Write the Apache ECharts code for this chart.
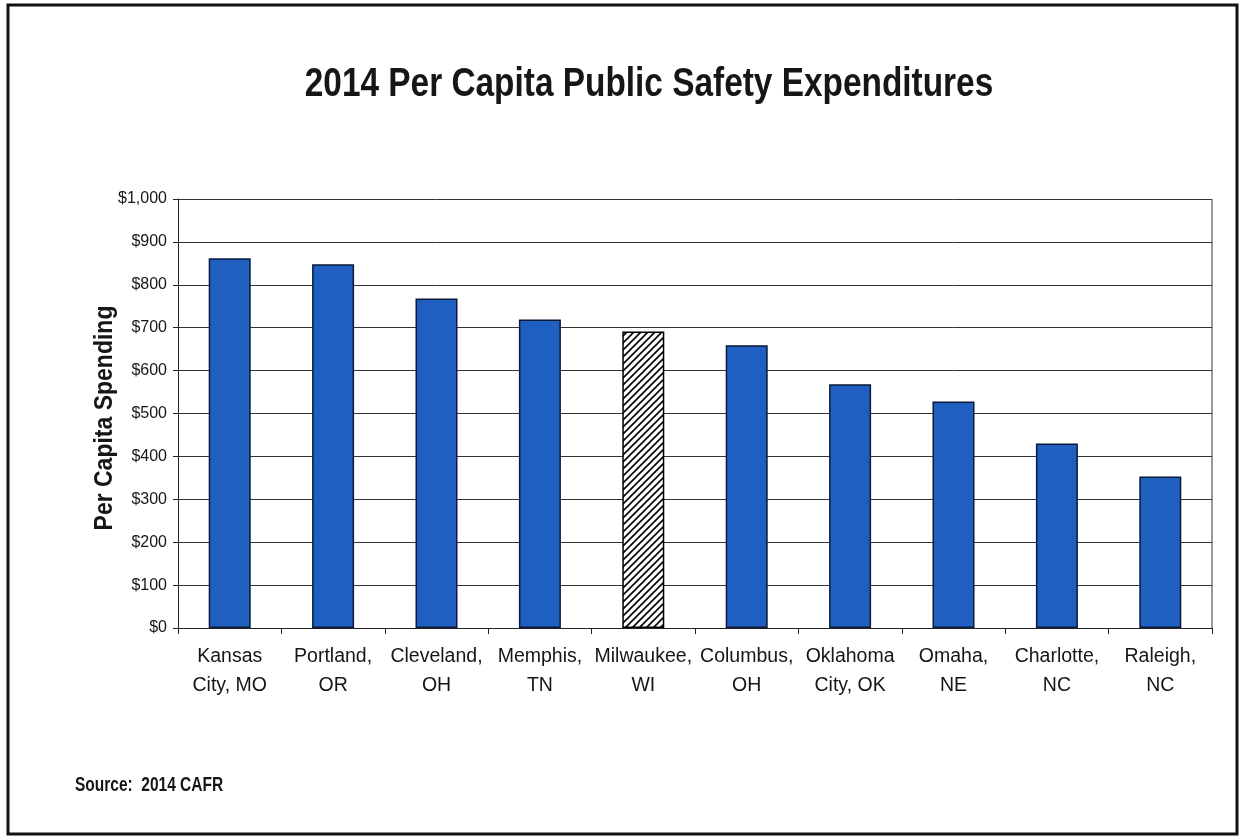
<!DOCTYPE html>
<html>
<head>
<meta charset="utf-8">
<script src="https://cdn.jsdelivr.net/npm/echarts@6/dist/echarts.min.js"></script>
<style>
html,body{margin:0;padding:0;background:#fff;}
#chart{width:1243px;height:840px;}
</style>
</head>
<body>
<div id="chart"></div>
<script>
const categories = ['Kansas\nCity, MO','Portland,\nOR','Cleveland,\nOH','Memphis,\nTN','Milwaukee,\nWI','Columbus,\nOH','Oklahoma\nCity, OK','Omaha,\nNE','Charlotte,\nNC','Raleigh,\nNC'];
const values = [862, 848, 768, 719, 691, 659, 568, 528, 430, 353];
const highlightIndex = 4;
const yTicks = [0, 100, 200, 300, 400, 500, 600, 700, 800, 900, 1000];

function hatch() {
  const c = document.createElement('canvas');
  c.width = 7; c.height = 7;
  const g = c.getContext('2d');
  g.fillStyle = '#fff'; g.fillRect(0,0,7,7);
  g.strokeStyle = '#000'; g.lineWidth = 1.6;
  g.beginPath();
  g.moveTo(-2,9); g.lineTo(9,-2);
  g.moveTo(-2,2); g.lineTo(2,-2);
  g.moveTo(5,9); g.lineTo(9,5);
  g.stroke();
  return c;
}
const blue = '#1f5fbf';
const chart = echarts.init(document.getElementById('chart'), null, {renderer:'canvas'});
const font = '"Liberation Sans", Arial, sans-serif';
chart.setOption({
  animation:false,
  textStyle:{fontFamily:font},
  graphic:[
    {type:'rect', shape:{x:8,y:5,width:1229,height:829}, style:{fill:'none', stroke:'#111', lineWidth:3}},
    {type:'text', x:649, y:85, scaleY:1.2, style:{text:'2014 Per Capita Public Safety Expenditures', font:'bold 33.4px "Liberation Sans", Arial, sans-serif', fill:'#161616', align:'center', verticalAlign:'middle'}},
    {type:'text', x:75, y:786, scaleY:1.25, style:{text:'Source:  2014 CAFR', font:'bold 15.5px "Liberation Sans", Arial, sans-serif', fill:'#161616', align:'left', verticalAlign:'middle'}},
    {type:'text', x:105, y:418, rotation:Math.PI/2, scaleY:1.15, style:{text:'Per Capita Spending', font:'bold 23px "Liberation Sans", Arial, sans-serif', fill:'#161616', align:'center', verticalAlign:'middle'}},
    {type:'line', shape:{x1:1212,y1:199,x2:1212,y2:628}, style:{stroke:'#333', lineWidth:1}}
  ],
  grid:{left:178, right:31, top:199, bottom:212, containLabel:false},
  xAxis:{
    type:'category', data:categories,
    axisLine:{lineStyle:{color:'#222', width:1}},
    axisTick:{show:true, length:6, lineStyle:{color:'#222'}},
    axisLabel:{color:'#161616', fontSize:19.5, lineHeight:29, margin:14, interval:0, fontFamily:font}
  },
  yAxis:{
    type:'value', min:0, max:1000, interval:100,
    axisLine:{show:true, lineStyle:{color:'#222'}},
    axisTick:{show:true, length:5, lineStyle:{color:'#222'}},
    axisLabel:{color:'#161616', fontSize:16, margin:11, fontFamily:font,
      formatter:v => yTicks.includes(v) ? '$' + v.toLocaleString('en-US') : ''},
    splitLine:{show:true, lineStyle:{color:'#333', width:1}}
  },
  series:[{
    type:'bar', barWidth:42,
    data: values.map((v,i)=> i===highlightIndex ?
      {value:v, itemStyle:{color:{image:hatch(), repeat:'repeat'}, borderColor:'#000', borderWidth:1.5}} :
      {value:v, itemStyle:{color:blue, borderColor:'#0a1a3a', borderWidth:1.5}})
  }]
});
</script>
</body>
</html>
